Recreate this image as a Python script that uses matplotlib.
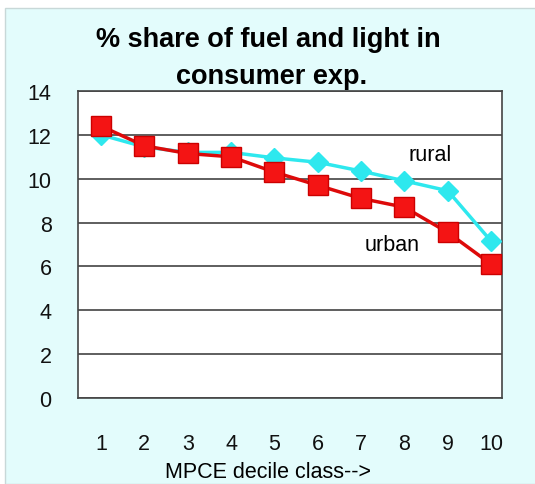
import matplotlib.pyplot as plt
from matplotlib.patches import Rectangle

plt.rcParams['font.family'] = ['Liberation Sans', 'DejaVu Sans']

deciles = [1, 2, 3, 4, 5, 6, 7, 8, 9, 10]
rural = [12.0, 11.45, 11.2, 11.2, 10.95, 10.75, 10.35, 9.9, 9.45, 7.15]
urban = [12.4, 11.5, 11.15, 11.0, 10.3, 9.7, 9.1, 8.7, 7.55, 6.1]
yticks = [0, 2, 4, 6, 8, 10, 12, 14]

W, H = 535, 485
fig = plt.figure(figsize=(W / 100, H / 100), dpi=100)
fig.patch.set_facecolor('white')

# cyan panel behind the chart
bg = Rectangle((5 / W, 0), 1, 1 - 9 / H, transform=fig.transFigure,
               facecolor='#e3fcfc', edgecolor='#c8d8d8', linewidth=1, zorder=-5)
fig.patches.append(bg)

ax = fig.add_axes([78 / W, 1 - 399 / H, (502 - 78) / W, (399 - 92) / H])
ax.set_zorder(2)
ax.set_facecolor('white')

ax.plot(deciles, rural, color='#2ee8ee', lw=2.5, marker='D', ms=10,
        markeredgecolor='#2ee8ee', zorder=3)
ax.plot(deciles, urban, color='#dd0a0a', lw=2.5, marker='s', ms=14,
        markerfacecolor='#f41414', markeredgecolor='#cc0000', zorder=4)

ax.set_xlim(0.47, 10.25)
ax.set_ylim(0, 14)
ax.set_yticks(yticks)
ax.set_xticks(deciles)
ax.yaxis.grid(True, color='#333333', lw=1.1)
ax.set_axisbelow(True)
ax.tick_params(length=0, labelsize=15.5, labelcolor='#111111')
ax.tick_params(axis='y', pad=19)
ax.tick_params(axis='x', pad=25)
for s in ax.spines.values():
    s.set_color('#444444')
    s.set_linewidth(1.2)

ax.text(8.6, 11.1, 'rural', fontsize=15.5, ha='center', va='center')
ax.text(7.71, 7.0, 'urban', fontsize=15.5, ha='center', va='center')

fig.text(268 / W, 1 - 40 / H, '% share of fuel and light in', fontsize=19.5,
         fontweight='bold', ha='center', va='center')
fig.text(272 / W, 1 - 77 / H, 'consumer exp.', fontsize=19.5,
         fontweight='bold', ha='center', va='center')
fig.text(268 / W, 1 - 473 / H, 'MPCE decile class-->', fontsize=15.5,
         ha='center', va='center')

plt.savefig('out.png', dpi=100)
